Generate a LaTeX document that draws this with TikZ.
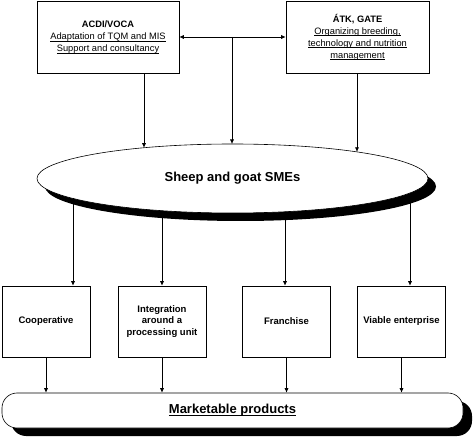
\documentclass[tikz,border=0pt]{standalone}
\usepackage{fontspec}
\setmainfont{Liberation Sans}
\usetikzlibrary{arrows.meta,shapes.geometric,shadows}
\newcommand{\ulin}[1]{\setbox0\hbox{#1}\rlap{\rule[-1.7pt]{\wd0}{0.5pt}}\box0}

\begin{document}
\begin{tikzpicture}[x=1pt,y=-1pt,
  line width=0.6pt,
  arr/.style={-{Latex[length=4.5pt,width=4pt]}},
  topbox/.style={draw,fill=white,minimum height=72pt,inner sep=0pt,align=center,
    font=\fontsize{9.3}{12}\selectfont},
  unitbox/.style={draw,fill=white,minimum width=88pt,minimum height=71pt,inner sep=0pt,
    align=center,font=\fontsize{9.5}{11.5}\selectfont\bfseries},
  blackshadow/.style={drop shadow={shadow xshift=8pt,shadow yshift=-8pt,fill=black,opacity=1}}]
\useasboundingbox (0,0) rectangle (474,438);

% Top boxes
\node[topbox,minimum width=142pt] (acdi) at (108,37)
  {\textbf{ACDI/VOCA}\\ \ulin{Adaptation of TQM and MIS}\\ \ulin{Support and consultancy}};
\node[topbox,minimum width=143pt] (gate) at (357.5,37)
  {\textbf{ÁTK, GATE}\\ \ulin{Organizing breeding,}\\ \ulin{technology and nutrition}\\ \ulin{management}};

% SMEs ellipse
\node[ellipse,draw,fill=white,blackshadow,minimum width=391pt,minimum height=69pt,inner sep=0pt,
  font=\fontsize{13}{15}\selectfont\bfseries] (sme) at (232.5,178.5) {Sheep and goat SMEs};

% points on the ellipse
\coordinate (in1) at (144,147.7);
\coordinate (in2) at (232,144);
\coordinate (in3) at (357,151.9);
\coordinate (out1) at (73,198);
\coordinate (out2) at (162,210.7);
\coordinate (out3) at (285,211.7);
\coordinate (out4) at (410,193);
\coordinate (mid) at (232,37);

% Forms of cooperation
\node[unitbox] (coop) at (46,321.5) {Cooperative};
\node[unitbox] (integ) at (162,321.5) {Integration\\ around a\\ processing unit};
\node[unitbox] (fran) at (286.5,321.5) {Franchise};
\node[unitbox] (viab) at (401.5,321.5) {Viable enterprise};

% Marketable products
\node[draw,fill=white,rounded corners=15pt,minimum width=461pt,minimum height=35pt,inner sep=0pt,
  drop shadow={shadow xshift=9pt,shadow yshift=-8pt,fill=black,opacity=1},
  font=\fontsize{13}{15}\selectfont\bfseries] (mkt) at (232.5,410.5) {\ulin{Marketable products}};

% Arrows
\draw[{Latex[length=4.5pt,width=4pt]}-{Latex[length=4.5pt,width=4pt]}] (acdi.east) -- (gate.west);
\draw[arr] (mid) -- (in2);
\draw[arr] (acdi.south -| in1) -- (in1);
\draw[arr] (gate.south -| in3) -- (in3);

\draw[arr] (out1) -- (out1 |- coop.north);
\draw[arr] (out2) -- (out2 |- integ.north);
\draw[arr] (out3) -- (out3 |- fran.north);
\draw[arr] (out4) -- (out4 |- viab.north);

\draw[arr] (coop.south) -- (coop.south |- mkt.north);
\draw[arr] (integ.south) -- (integ.south |- mkt.north);
\draw[arr] (fran.south) -- (fran.south |- mkt.north);
\draw[arr] (viab.south) -- (viab.south |- mkt.north);
\end{tikzpicture}
\end{document}
